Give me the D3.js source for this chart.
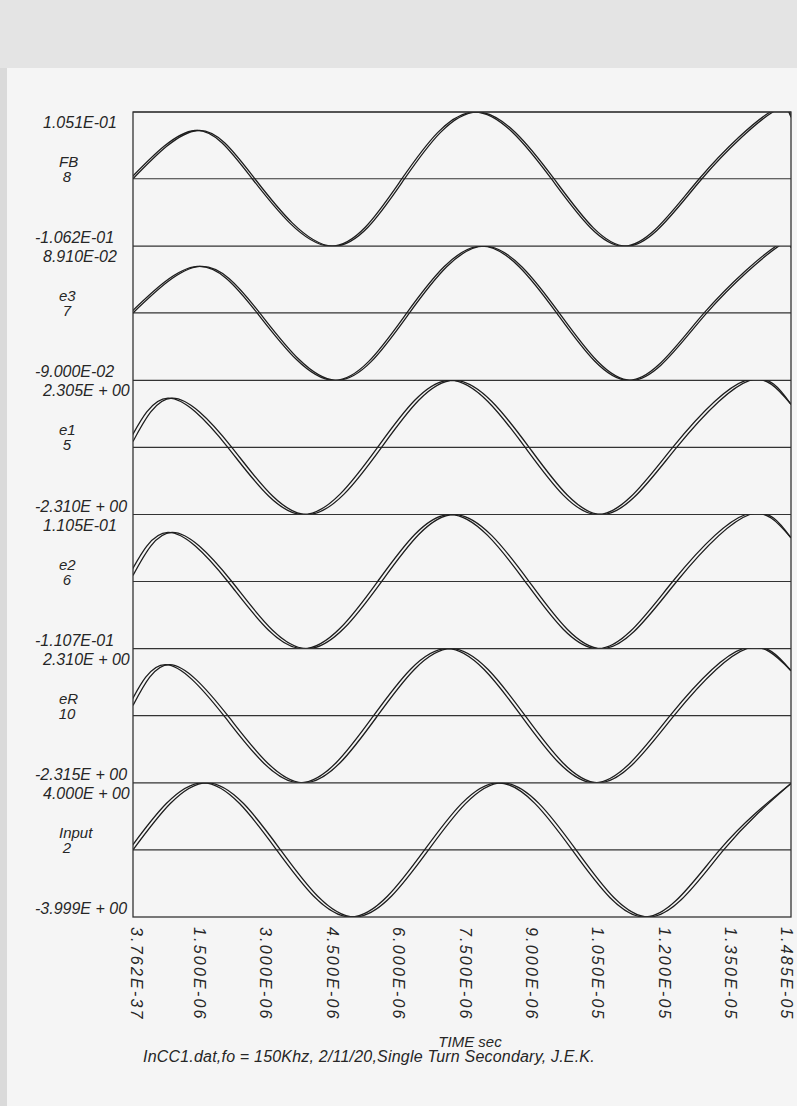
<!DOCTYPE html>
<html>
<head>
<meta charset="utf-8">
<script src="https://cdn.jsdelivr.net/npm/d3@7"></script>
<style>
  body { margin: 0; background: #f4f4f4; }
  svg { display: block; }
  text { font-family: "Liberation Sans", Arial, sans-serif; font-style: italic; fill: #262626; }
</style>
</head>
<body>
<svg id="chart" width="797" height="1106"></svg>
<script>
// ---------------- data ----------------
const panelNames   = ["FB", "e3", "e1", "e2", "eR", "Input"];
const panelNumbers = ["8", "7", "5", "6", "10", "2"];
const panelMax = [1.051e-1, 8.910e-2, 2.305, 1.105e-1, 2.310, 4.000];
const panelMin = [-1.062e-1, -9.000e-2, -2.310, -1.107e-1, -2.315, -3.999];
const maxLabels = ["1.051E-01", "8.910E-02", "2.305E + 00", "1.105E-01", "2.310E + 00", "4.000E + 00"];
const minLabels = ["-1.062E-01", "-9.000E-02", "-2.310E + 00", "-1.107E-01", "-2.315E + 00", "-3.999E + 00"];

// key points (extremes and zero crossings), time in microseconds
const fbTime    = [0, 1.46, 2.75, 4.50, 6.13, 7.77, 9.50, 11.15, 12.84, 14.44, 14.85];
const fbValue   = [0, 0.076, 0, -0.1062, 0, 0.1051, 0, -0.1062, 0, 0.1051, 0.097];
const e3Time    = [0, 1.51, 2.86, 4.57, 6.24, 7.93, 9.62, 11.26, 12.95, 14.57, 14.85];
const e3Value   = [0, 0.062, 0, -0.090, 0, 0.0891, 0, -0.090, 0, 0.0891, 0.087];
const e1Time    = [0, 0.88, 2.23, 3.90, 5.61, 7.25, 8.94, 10.59, 12.27, 13.92, 14.85];
const e1Value   = [0.20, 1.69, 0, -2.310, 0, 2.305, 0, -2.310, 0, 2.305, 1.48];
const e2Time    = [0, 0.88, 2.23, 3.90, 5.61, 7.25, 8.94, 10.59, 12.27, 13.92, 14.85];
const e2Value   = [0.010, 0.081, 0, -0.1107, 0, 0.1105, 0, -0.1107, 0, 0.1105, 0.072];
const eRTime    = [0, 0.83, 2.14, 3.83, 5.52, 7.18, 8.85, 10.52, 12.21, 13.85, 14.85];
const eRValue   = [0.35, 1.76, 0, -2.315, 0, 2.310, 0, -2.315, 0, 2.310, 1.55];
const inputTime  = [0, 1.67, 3.33, 5.00, 6.67, 8.33, 10.00, 11.67, 13.33, 14.85];
const inputValue = [0, 4.000, 0, -3.999, 0, 4.000, 0, -3.999, 0, 3.96];

// the second (doubled) trace of each panel leads the first by this many microseconds
const traceLead = [0.06, 0.06, 0.09, 0.09, 0.09, 0.09];

const tickValues = [0, 1.5, 3.0, 4.5, 6.0, 7.5, 9.0, 10.5, 12.0, 13.5, 14.85];
const tickLabels = ["3.762E-37", "1.500E-06", "3.000E-06", "4.500E-06", "6.000E-06", "7.500E-06",
                    "9.000E-06", "1.050E-05", "1.200E-05", "1.350E-05", "1.485E-05"];
const axisTitle = "TIME sec";
const caption = "InCC1.dat,fo = 150Khz, 2/11/20,Single Turn Secondary, J.E.K.";

const seriesTimes  = [fbTime, e3Time, e1Time, e2Time, eRTime, inputTime];
const seriesValues = [fbValue, e3Value, e1Value, e2Value, eRValue, inputValue];

// ---------------- layout ----------------
const svg = d3.select("#chart");
const plotLeft = 133, plotRight = 791, plotTop = 112, plotBottom = 917;

// scanned page look
svg.append("rect").attr("x", 0).attr("y", 0).attr("width", 797).attr("height", 1106).attr("fill", "#f5f5f5");
svg.append("rect").attr("x", 0).attr("y", 0).attr("width", 797).attr("height", 68).attr("fill", "#e4e4e4");
svg.append("rect").attr("x", 0).attr("y", 68).attr("width", 7).attr("height", 1038).attr("fill", "#dadada");

const x = d3.scaleLinear().domain([0, 14.85]).range([plotLeft, plotRight]);
const band = d3.scaleBand().domain(d3.range(panelNames.length)).range([plotTop, plotBottom]).paddingInner(0);

const defs = svg.append("defs");

panelNames.forEach((name, i) => {
  const top = band(i), bottom = band(i) + band.bandwidth();
  const y = d3.scaleLinear().domain([panelMin[i], panelMax[i]]).range([bottom, top]);
  const g = svg.append("g");

  defs.append("clipPath").attr("id", "clip" + i)
    .append("rect").attr("x", plotLeft).attr("y", top).attr("width", plotRight - plotLeft).attr("height", bottom - top);

  // zero line
  g.append("line").attr("x1", plotLeft).attr("x2", plotRight).attr("y1", y(0)).attr("y2", y(0))
    .attr("stroke", "#333").attr("stroke-width", 1.2);
  // panel separator (top edge)
  g.append("line").attr("x1", plotLeft).attr("x2", plotRight).attr("y1", top).attr("y2", top)
    .attr("stroke", "#333").attr("stroke-width", 1.2);

  const times = seriesTimes[i], vals = seriesValues[i];
  const last = times.length - 1;
  const traceA = times.map((t, k) => [t, vals[k]]);
  const traceB = times.map((t, k) => [k === last ? t : t - traceLead[i], vals[k]]);
  const line = d3.line().x(d => x(d[0])).y(d => y(d[1])).curve(d3.curveNatural);

  const tg = g.append("g").attr("clip-path", `url(#clip${i})`);
  [traceA, traceB].forEach(tr => {
    tg.append("path").attr("d", line(tr)).attr("fill", "none")
      .attr("stroke", "#1e1e1e").attr("stroke-width", 1.3);
  });

  // value labels: fixed-width layout, sign column at the left
  g.append("text").attr("x", maxLabels[i].startsWith("-") ? 35 : 43).attr("y", top + 16)
    .attr("font-size", 16).text(maxLabels[i]);
  g.append("text").attr("x", minLabels[i].startsWith("-") ? 35 : 43).attr("y", bottom - 3)
    .attr("font-size", 16).text(minLabels[i]);
  // series name & number
  g.append("text").attr("x", 59).attr("y", y(0) - 12).attr("font-size", 15).text(name);
  g.append("text").attr("x", 67).attr("y", y(0) + 3).attr("text-anchor", "middle")
    .attr("font-size", 15).text(panelNumbers[i]);
});

// outer frame
svg.append("rect").attr("x", plotLeft).attr("y", plotTop).attr("width", plotRight - plotLeft)
  .attr("height", plotBottom - plotTop).attr("fill", "none").attr("stroke", "#333").attr("stroke-width", 1.3);

// x tick labels (rotated)
tickValues.forEach((t, k) => {
  const px = Math.max(plotLeft + 4, Math.min(plotRight - 4, x(t)));
  svg.append("text").attr("transform", `translate(${px},927) rotate(90)`)
    .attr("dy", "0.36em").attr("font-size", 16).attr("letter-spacing", 2.2).text(tickLabels[k]);
});

svg.append("text").attr("x", 470).attr("y", 1047).attr("text-anchor", "middle")
  .attr("font-size", 15).text(axisTitle);
svg.append("text").attr("x", 143).attr("y", 1062).attr("font-size", 16).attr("letter-spacing", 0.2).text(caption);
</script>
</body>
</html>
